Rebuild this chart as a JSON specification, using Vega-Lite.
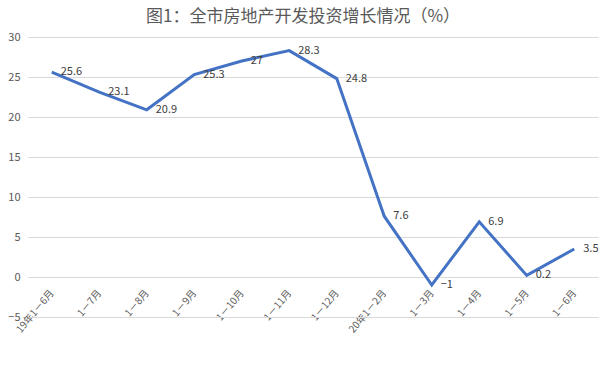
{
  "$schema": "https://vega.github.io/schema/vega-lite/v6.json",
  "width": 570,
  "height": 280,
  "autosize": {"type": "none"},
  "padding": {"left": 28, "top": 37, "right": 15, "bottom": 63},
  "background": "white",
  "title": {
    "text": "图1：全市房地产开发投资增长情况（%）",
    "font": "Noto Sans CJK SC",
    "fontSize": 17,
    "fontWeight": "normal",
    "color": "#595959",
    "anchor": "middle",
    "offset": 5,
    "dx": -10,
    "limit": 600
  },
  "data": {
    "values": [
      {"period": "19年1－6月", "value": 25.6},
      {"period": "1－7月", "value": 23.1},
      {"period": "1－8月", "value": 20.9},
      {"period": "1－9月", "value": 25.3},
      {"period": "1－10月", "value": 27},
      {"period": "1－11月", "value": 28.3},
      {"period": "1－12月", "value": 24.8},
      {"period": "20年1－2月", "value": 7.6},
      {"period": "1－3月", "value": -1},
      {"period": "1－4月", "value": 6.9},
      {"period": "1－5月", "value": 0.2},
      {"period": "1－6月", "value": 3.5}
    ]
  },
  "encoding": {
    "x": {
      "field": "period",
      "type": "nominal",
      "sort": null,
      "scale": {"type": "point", "padding": 0.5},
      "axis": {
        "title": null,
        "labelAngle": -50,
        "labelAlign": "right",
        "labelBaseline": "middle",
        "labelPadding": -26,
        "labelFont": "Noto Sans CJK SC",
        "labelFontSize": 10,
        "labelColor": "#595959",
        "labelLimit": 200,
        "ticks": false,
        "domainColor": "#d9d9d9",
        "grid": false
      }
    },
    "y": {
      "field": "value",
      "type": "quantitative",
      "scale": {"domain": [-5, 30], "nice": false, "zero": false},
      "axis": {
        "title": null,
        "values": [-5, 0, 5, 10, 15, 20, 25, 30],
        "labelFont": "Noto Sans CJK SC",
        "labelFontSize": 11,
        "labelColor": "#595959",
        "labelPadding": 8,
        "ticks": false,
        "domain": false,
        "grid": true,
        "gridColor": "#d9d9d9"
      }
    }
  },
  "layer": [
    {
      "mark": {"type": "line", "color": "#4472C4", "strokeWidth": 3}
    },
    {
      "mark": {
        "type": "text",
        "align": "left",
        "baseline": "middle",
        "dx": 9,
        "font": "Noto Sans CJK SC",
        "fontSize": 11,
        "color": "#404040"
      },
      "encoding": {"text": {"field": "value", "type": "quantitative"}}
    }
  ],
  "config": {"view": {"stroke": null}}
}
